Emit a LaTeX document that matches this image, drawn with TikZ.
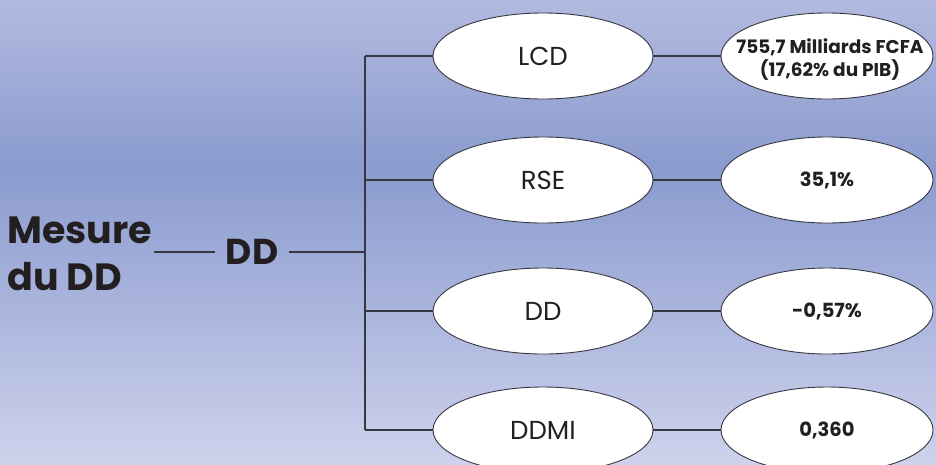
\documentclass[tikz,border=0pt]{standalone}
\usepackage{fontspec}
\setmainfont{Poppins}
\usetikzlibrary{shapes.geometric}

\definecolor{bgtop}{RGB}{178,186,223}
\definecolor{bgmid}{RGB}{138,155,207}
\definecolor{bgbot}{RGB}{206,210,236}
\definecolor{linegray}{RGB}{55,55,65}
\definecolor{txt}{RGB}{35,31,32}

\begin{document}
\begin{tikzpicture}[x=1pt,y=-1pt,
    item/.style={shape=ellipse,draw=linegray,line width=0.9pt,fill=white,minimum width=220pt,minimum height=86pt,inner sep=0pt,text=txt,font=\fontsize{26}{30}\selectfont},
    value/.style={item,minimum width=212pt},
    valtext/.style={text=txt,align=center,font=\bfseries\fontsize{19.5}{26}\selectfont},
    link/.style={draw=linegray,line width=1.3pt}]
        \useasboundingbox (0,0) rectangle (936,464);
        \fill[top color=bgtop,bottom color=bgmid] (0,0) rectangle (936,168);
        \fill[top color=bgmid,bottom color=bgbot] (0,167) rectangle (936,464);

        \node[anchor=west,align=left,text=txt,inner sep=2pt,font=\bfseries\fontsize{38}{47}\selectfont](mesure) at (5,254)  {Mesure\\du DD};
        \node[text=txt,inner xsep=11pt,font=\bfseries\fontsize{36}{40}\selectfont](dd) at (252,252)  {DD};
        \coordinate (trunk) at (365,252);

        \node[item](lcd) at (543,56)  {LCD};
        \node[item](rse) at (543,180)  {RSE};
        \node[item](ddi) at (543,311)  {DD};
        \node[item](ddmi) at (543,430)  {DDMI};

        \node[value,label={[valtext,font=\bfseries\fontsize{18.5}{23}\selectfont,xshift=3pt,yshift=-4pt]center:755,7 Milliards FCFA\\(17,62\% du PIB)}](v1) at (827,56)  {};
        \node[value,label={[valtext]center:35,1\%}](v2) at (827,180)  {};
        \node[value,label={[valtext]center:-0,57\%}](v3) at (827,311)  {};
        \node[value,label={[valtext]center:0,360}](v4) at (827,430)  {};

        \draw[link] (mesure.east |- dd) -- (dd.west);
        \draw[link] (dd.east) -- (trunk);
        \draw[link] (lcd.west -| trunk) -- (ddmi.west -| trunk);
        \draw[link] (lcd.west -| trunk) -- (lcd);
        \draw[link] (rse.west -| trunk) -- (rse);
        \draw[link] (ddi.west -| trunk) -- (ddi);
        \draw[link] (ddmi.west -| trunk) -- (ddmi);
        \draw[link] (lcd) -- (v1);
        \draw[link] (rse) -- (v2);
        \draw[link] (ddi) -- (v3);
        \draw[link] (ddmi) -- (v4);
    \end{tikzpicture}
\end{document}
